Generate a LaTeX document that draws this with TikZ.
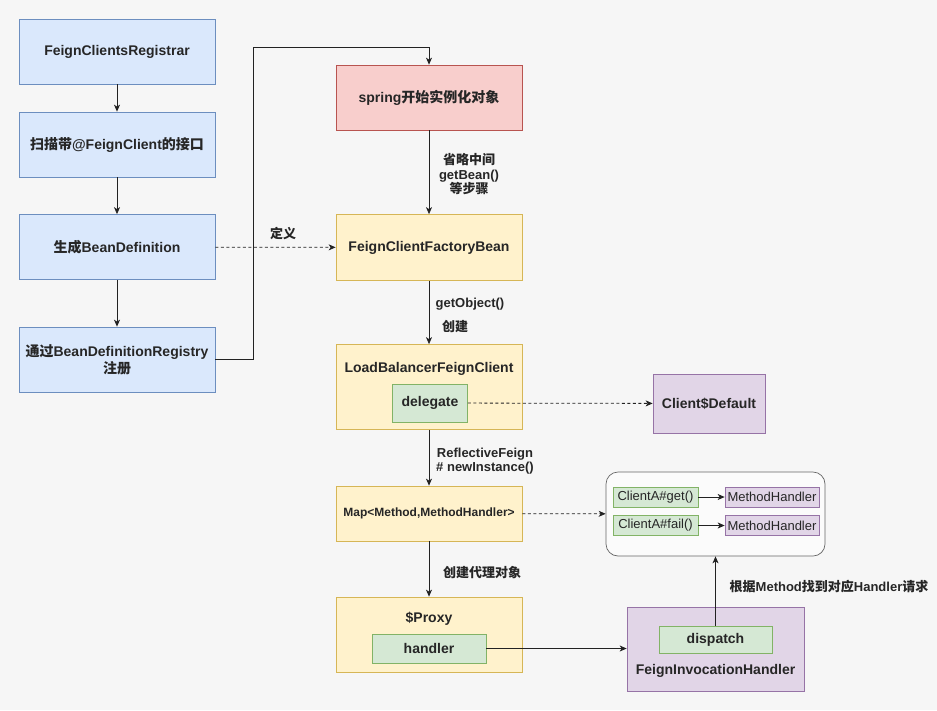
\documentclass[tikz,border=0pt]{standalone}
\usepackage{fontspec}
\setmainfont{Liberation Sans}
\newfontfamily\cjk{Noto Sans CJK SC}
\usetikzlibrary{arrows.meta}
\definecolor{bgGray}{HTML}{F6F6F6}
\definecolor{blueFill}{HTML}{DAE8FC}
\definecolor{blueLine}{HTML}{6C8EBF}
\definecolor{redFill}{HTML}{F8CECC}
\definecolor{redLine}{HTML}{B85450}
\definecolor{yellowFill}{HTML}{FFF2CC}
\definecolor{yellowLine}{HTML}{D6B656}
\definecolor{greenFill}{HTML}{D5E8D4}
\definecolor{greenLine}{HTML}{82B366}
\definecolor{purpleFill}{HTML}{E1D5E7}
\definecolor{purpleLine}{HTML}{9673A6}
\definecolor{lineGray}{HTML}{222222}
\newcommand{\zh}[1]{{\cjk #1}}

\begin{document}
\begin{tikzpicture}[x=1pt, y=-1pt]
    \tikzstyle{every node}=[font=\bfseries\fontsize{14}{17}\selectfont, text=black!85, align=center, inner sep=1pt];
    \tikzstyle{box}=[draw, line width=0.7pt];
    \tikzstyle{bluebox}=[box, fill=blueFill, draw=blueLine, minimum width=196pt, minimum height=65pt];
    \tikzstyle{redbox}=[box, fill=redFill, draw=redLine, minimum width=186pt, minimum height=65pt];
    \tikzstyle{yellowbox}=[box, fill=yellowFill, draw=yellowLine, minimum width=186pt];
    \tikzstyle{greenbox}=[box, fill=greenFill, draw=greenLine];
    \tikzstyle{purplebox}=[box, fill=purpleFill, draw=purpleLine];
    \tikzstyle{edgelabel}=[font=\bfseries\fontsize{13}{14.5}\selectfont];
    \tikzstyle{itemtext}=[font=\fontsize{13}{15}\selectfont];
    \tikzstyle{arr}=[draw=lineGray, line width=0.8pt, -{Stealth[length=7pt, width=6pt, inset=2pt]}];
    \tikzstyle{dasharr}=[arr, dash pattern=on 3pt off 2.5pt];

    \fill[bgGray] (0,0) rectangle (937,710);
    \useasboundingbox (0,0) rectangle (937,710);

    % left column
    \node[bluebox] (registrar) at (117,51.5) {FeignClientsRegistrar};
    \node[bluebox] (scan) at (117,144.5) {\zh{扫描带}@FeignClient\zh{的接口}};
    \node[bluebox] (genDef) at (117,247) {\zh{生成}BeanDefinition};
    \node[bluebox] (regDef) at (117,359.5) {\zh{通过}BeanDefinitionRegistry\\\zh{注册}};

    % middle column
    \node[redbox] (spring) at (429,97.5) {spring\zh{开始实例化对象}};
    \node[yellowbox, minimum height=66pt] (factory) at (429,247.5) {FeignClientFactoryBean};
    \node[yellowbox, minimum height=85pt] (lbClient) at (429,387) {};
    \node (lbTitle) at (429,369) {LoadBalancerFeignClient};
    \node[greenbox, minimum width=75pt, minimum height=38pt] (delegate) at (430,403) {delegate};
    \node[yellowbox, minimum height=55pt, font=\bfseries\fontsize{12}{14}\selectfont] (map) at (429,513.5) {Map<Method,MethodHandler>};
    \node[yellowbox, minimum height=75pt] (proxy) at (429,634.5) {};
    \node (proxyTitle) at (429,619) {\$Proxy};
    \node[greenbox, minimum width=114pt, minimum height=29pt] (handler) at (429,648.5) {handler};

    % right side
    \node[purplebox, minimum width=112pt, minimum height=59pt] (clientDefault) at (709,403.5) {Client\$Default};
    \node[draw=black!60, line width=0.7pt, fill=white!60!bgGray, rounded corners=12pt, minimum width=219pt, minimum height=84pt] (methodMap) at (715.5,514) {};
    \node[greenbox, itemtext, minimum width=85pt, minimum height=20pt] (getM) at (655.5,497) {ClientA\#get()};
    \node[purplebox, itemtext, minimum width=94pt, minimum height=20pt] (getH) at (772,497) {MethodHandler};
    \node[greenbox, itemtext, minimum width=85pt, minimum height=20pt] (failM) at (655.5,525.5) {ClientA\#fail()};
    \node[purplebox, itemtext, minimum width=94pt, minimum height=20pt] (failH) at (772,525.5) {MethodHandler};
    \node[purplebox, minimum width=177pt, minimum height=84pt] (invocation) at (715.5,649) {};
    \node[greenbox, minimum width=113pt, minimum height=27pt] (dispatch) at (715.5,639.5) {dispatch};
    \node (invTitle) at (715.5,671) {FeignInvocationHandler};

    % connectors
    \coordinate (loopTop) at (253,47);
    \draw[arr] (registrar) -- (scan);
    \draw[arr] (scan) -- (genDef);
    \draw[arr] (genDef) -- (regDef);
    \draw[arr] (regDef.east) -| (loopTop) -| (spring.north);
    \draw[dasharr] (genDef) -- (factory);
    \draw[arr] (spring) -- (factory);
    \draw[arr] (factory) -- (lbClient);
    \draw[arr] (lbClient) -- (map);
    \draw[arr] (map) -- (proxy);
    \draw[dasharr] (delegate) -- (clientDefault);
    \draw[dasharr] (map) -- (methodMap);
    \draw[arr] (getM) -- (getH);
    \draw[arr] (failM) -- (failH);
    \draw[arr] (handler.east) -- (handler.east -| invocation.west);
    \draw[arr] (dispatch.north) -- (dispatch.north |- methodMap.south);

    % edge labels
    \node[edgelabel] (defLabel) at (283,234) {\zh{定义}};
    \node[edgelabel] (getBeanLabel) at (469,174.5) {\zh{省略中间}\\getBean()\\\zh{等步骤}};
    \node[edgelabel] (getObjLabel) at (470,304) {getObject()};
    \node[edgelabel] (createLabel) at (455,327) {\zh{创建}};
    \node[edgelabel] (reflectLabel) at (485,461) {ReflectiveFeign\\\# newInstance()};
    \node[edgelabel] (proxyLabel) at (482,573) {\zh{创建代理对象}};
    \node[edgelabel] (findLabel) at (829,587) {\zh{根据}Method\zh{找到对应}Handler\zh{请求}};
\end{tikzpicture}
\end{document}
